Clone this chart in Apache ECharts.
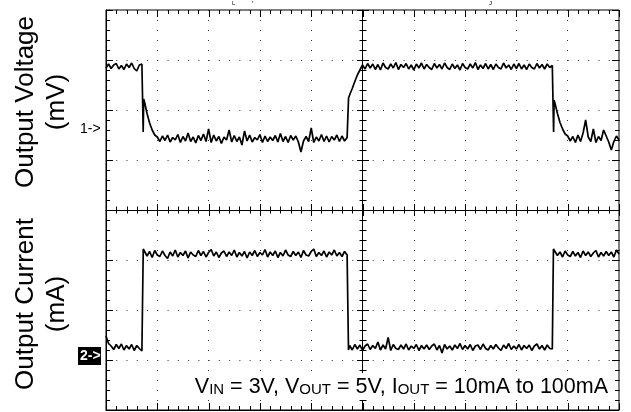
<!DOCTYPE html>
<html>
<head>
<meta charset="utf-8">
<script src="https://cdn.jsdelivr.net/npm/echarts@6/dist/echarts.min.js"></script>
<style>
html,body{margin:0;padding:0;background:#fff;}
#chart{width:631px;height:412px;}
</style>
</head>
<body>
<div id="chart"></div>
<script>
// ---- DATA (oscilloscope trace values in screen divisions; x: 0..10, y: 0..8) ----
const SAMPLE_STEP = 0.05;
const axisLabels = { upper: ['Output Voltage', '(mV)'], lower: ['Output Current', '(mA)'] };
const channelMarkers = ['1->', '2->'];

// Output voltage trace
const vHighA = [6.84, 6.92, 6.83, 6.90, 6.93, 6.82, 6.89, 6.81, 6.92, 6.85, 6.94, 6.83, 6.78, 6.90, 6.92]; // t 0.00..0.70
const vFallA = [[0.72, 6.89], [0.725, 5.56], [0.735, 6.22], [0.76, 6.12], [0.80, 5.93], [0.85, 5.74], [0.90, 5.60], [0.95, 5.50]];
const vLowB = [ // t 1.00..4.70
  5.46, 5.37, 5.48, 5.39, 5.50, 5.36, 5.45, 5.40, 5.51, 5.35,
  5.47, 5.38, 5.54, 5.37, 5.46, 5.34, 5.49, 5.39, 5.52, 5.37,
  5.62, 5.35, 5.50, 5.38, 5.47, 5.33, 5.46, 5.40, 5.60, 5.36,
  5.49, 5.37, 5.46, 5.30, 5.58, 5.38, 5.50, 5.36, 5.45, 5.40,
  5.51, 5.35, 5.48, 5.37, 5.46, 5.39, 5.49, 5.36, 5.53, 5.37,
  5.47, 5.35, 5.49, 5.40, 5.48, 5.36, 5.16, 5.38, 5.47, 5.37,
  5.64, 5.35, 5.46, 5.38, 5.51, 5.37, 5.48, 5.36, 5.47, 5.40,
  5.50, 5.37, 5.48, 5.38, 5.45];
const vRiseB = [[4.725, 5.42], [4.728, 6.24], [4.76, 6.33], [4.80, 6.43], [4.85, 6.57], [4.90, 6.70], [4.95, 6.80]];
const vHighC = [ // t 5.00..8.70
  6.90, 6.82, 6.93, 6.84, 6.92, 6.81, 6.91, 6.80, 6.94, 6.85,
  6.82, 6.92, 6.84, 6.95, 6.81, 6.91, 6.85, 6.93, 6.82, 6.90,
  6.80, 6.92, 6.84, 6.94, 6.82, 6.91, 6.85, 6.81, 6.93, 6.84,
  6.91, 6.82, 6.94, 6.85, 6.81, 6.92, 6.83, 6.90, 6.80, 6.93,
  6.85, 6.82, 6.92, 6.84, 6.95, 6.81, 6.90, 6.83, 6.93, 6.82,
  6.91, 6.81, 6.92, 6.85, 6.82, 6.94, 6.84, 6.90, 6.81, 6.92,
  6.83, 6.93, 6.82, 6.90, 6.81, 6.92, 6.85, 6.82, 6.93, 6.84,
  6.91, 6.82, 6.92, 6.85, 6.89];
const vFallC = [[8.72, 6.88], [8.725, 5.56], [8.735, 6.20], [8.76, 6.10], [8.80, 5.93], [8.85, 5.75], [8.90, 5.62], [8.95, 5.52]];
const vLowD = [ // t 9.00..10.00
  5.48, 5.38, 5.47, 5.35, 5.50, 5.37, 5.54, 5.80, 5.46, 5.37,
  5.62, 5.35, 5.47, 5.39, 5.60, 5.48, 5.36, 5.20, 5.37, 5.48, 5.40];

// Output current trace
const iLowA = [1.48, 1.33, 1.28, 1.21, 1.31, 1.23, 1.32, 1.20, 1.29, 1.22, 1.31, 1.19, 1.29, 1.23, 1.18]; // t 0.00..0.70
const iRiseA = [[0.724, 1.20], [0.726, 3.22]];
const iHighB = [ // t 0.75..4.70
  3.20, 3.08, 3.17, 3.05, 3.19, 3.10, 3.07, 3.18, 3.09, 3.03,
  3.16, 3.08, 3.20, 3.06, 3.15, 3.09, 3.18, 3.04, 3.16, 3.10,
  3.07, 3.19, 3.09, 3.17, 3.06, 3.15, 3.21, 3.08, 3.16, 3.05,
  3.14, 3.18, 3.07, 3.16, 3.09, 3.20, 3.06, 3.15, 3.08, 3.17,
  3.04, 3.16, 3.09, 3.19, 3.07, 3.15, 3.10, 3.21, 3.06, 3.16,
  3.09, 3.18, 3.05, 3.15, 3.08, 3.20, 3.10, 3.07, 3.17, 3.09,
  3.16, 3.05, 3.19, 3.10, 3.08, 3.17, 3.22, 3.07, 3.15, 3.09,
  3.18, 3.06, 3.16, 3.10, 3.20, 3.08, 3.15, 3.07, 3.17, 3.10];
const iFallB = [[4.724, 3.13], [4.727, 1.20]];
const iLowC = [ // t 4.75..8.70
  1.29, 1.20, 1.31, 1.22, 1.30, 1.19, 1.28, 1.32, 1.21, 1.29,
  1.23, 1.36, 1.20, 1.30, 1.22, 1.45, 1.19, 1.31, 1.23, 1.21,
  1.30, 1.22, 1.32, 1.20, 1.28, 1.23, 1.31, 1.19, 1.29, 1.22,
  1.30, 1.21, 1.28, 1.32, 1.20, 1.29, 1.14, 1.31, 1.22, 1.28,
  1.20, 1.30, 1.23, 1.33, 1.21, 1.29, 1.22, 1.31, 1.19, 1.28,
  1.30, 1.21, 1.32, 1.23, 1.20, 1.29, 1.22, 1.31, 1.24, 1.19,
  1.30, 1.23, 1.33, 1.21, 1.28, 1.22, 1.31, 1.20, 1.29, 1.23,
  1.30, 1.19, 1.28, 1.32, 1.22, 1.29, 1.20, 1.30, 1.23, 1.22];
const iRiseC = [[8.72, 1.22], [8.722, 3.22]];
const iHighD = [ // t 8.75..10.00
  3.19, 3.09, 3.16, 3.06, 3.18, 3.10, 3.07, 3.17, 3.08, 3.15,
  3.05, 3.18, 3.09, 3.16, 3.07, 3.14, 3.19, 3.06, 3.15, 3.08,
  3.17, 3.09, 3.16, 3.06, 3.20, 3.12];

// Graticule: 10 x 8 divisions, 5 minor subdivisions each
const X_DIVS = 10, Y_DIVS = 8, MINOR = 5;

// ---- build series data from the arrays ----
function samples(t0, values) {
  return values.map((v, i) => [+(t0 + i * SAMPLE_STEP).toFixed(3), v]);
}
const voltageData = [].concat(
  samples(0, vHighA), vFallA, samples(1.0, vLowB), vRiseB,
  samples(5.0, vHighC), vFallC, samples(9.0, vLowD));
const currentData = [].concat(
  samples(0, iLowA), iRiseA, samples(0.75, iHighB), iFallB,
  samples(4.75, iLowC), iRiseC, samples(8.75, iHighD));

// graticule tick marks (in axis units): [x, y, whichLine]
// whichLine: 0 bottom border, 1 top border, 2 horizontal centre, 3 left border, 4 right border, 5 vertical centre
const graticuleTicks = [];
for (let i = 0; i <= X_DIVS * MINOR; i++) {
  const t = i / MINOR;
  graticuleTicks.push([t, 0, 0], [t, Y_DIVS, 1], [t, Y_DIVS / 2, 2]);
}
for (let j = 0; j <= Y_DIVS * MINOR; j++) {
  const u = j / MINOR;
  graticuleTicks.push([0, u, 3], [X_DIVS, u, 4], [X_DIVS / 2, u, 5]);
}

function renderTick(params, api) {
  const vx = api.value(0), vy = api.value(1), where = api.value(2);
  const p = api.coord([vx, vy]);
  let x1, y1, x2, y2;
  if (where <= 2) {
    const major = Math.abs(vx - Math.round(vx)) < 1e-6;
    const x = Math.round(p[0]) + 0.5, y = Math.round(p[1]);
    if (where === 0) { y1 = y; y2 = y - (major ? 7 : 4); }
    else if (where === 1) { y1 = y; y2 = y + (major ? 7 : 4); }
    else { const h = major ? 6 : 3.5; y1 = y - h; y2 = y + h; }
    x1 = x2 = x;
  } else {
    const major = Math.abs(vy - Math.round(vy)) < 1e-6;
    const y = Math.round(p[1]) + 0.5, x = Math.round(p[0]);
    if (where === 3) { x1 = x; x2 = x + (major ? 7 : 4); }
    else if (where === 4) { x1 = x; x2 = x - (major ? 7 : 4); }
    else { const h = major ? 6 : 3.5; x1 = x - h; x2 = x + h; }
    y1 = y2 = y;
  }
  return { type: 'line', shape: { x1: x1, y1: y1, x2: x2, y2: y2 }, style: { stroke: '#000', lineWidth: 1, fill: null } };
}

// ---- chart ----
const chart = echarts.init(document.getElementById('chart'), null, { renderer: 'canvas' });
const FONT = '"Liberation Sans", Arial, Helvetica, sans-serif';
const black = '#000';

function axisDef(dim, pos, offset, split) {
  return {
    type: 'value', min: 0, max: dim === 'x' ? X_DIVS : Y_DIVS, interval: 1, position: pos, offset: offset,
    axisLine: { show: true, onZero: false, lineStyle: { color: black, width: 1 } },
    axisTick: { show: false },
    minorTick: { show: false },
    axisLabel: { show: false },
    splitLine: { show: split, lineStyle: { color: '#333', width: 1, type: dim === 'x' ? [1, 9] : [1, 9.26] } }
  };
}

const option = {
  animation: false,
  grid: { show: true, borderColor: black, borderWidth: 1, left: 106, top: 10, width: 513, height: 400 },
  xAxis: [
    axisDef('x', 'bottom', 0, true),
    axisDef('x', 'bottom', -200, false)
  ],
  yAxis: [
    axisDef('y', 'left', 0, true),
    axisDef('y', 'left', -256.5, false)
  ],
  series: [
    {
      name: 'graticule', type: 'custom', xAxisIndex: 0, yAxisIndex: 0,
      data: graticuleTicks, renderItem: renderTick, clip: false, silent: true, z: 3
    },
    {
      name: 'Output Voltage', type: 'line', xAxisIndex: 0, yAxisIndex: 0,
      data: voltageData, showSymbol: false, symbol: 'none', z: 5,
      lineStyle: { color: black, width: 1.7 }
    },
    {
      name: 'Output Current', type: 'line', xAxisIndex: 0, yAxisIndex: 0,
      data: currentData, showSymbol: false, symbol: 'none', z: 5,
      lineStyle: { color: black, width: 1.7 }
    }
  ],
  graphic: [
    {
      type: 'text', x: 41.5, y: 102, rotation: Math.PI / 2,
      style: { text: axisLabels.upper.join('\n'), font: '26px ' + FONT, fill: black,
               align: 'center', verticalAlign: 'middle', lineHeight: 31 }
    },
    {
      type: 'text', x: 41.5, y: 304, rotation: Math.PI / 2,
      style: { text: axisLabels.lower.join('\n'), font: '26px ' + FONT, fill: black,
               align: 'center', verticalAlign: 'middle', lineHeight: 31 }
    },
    {
      type: 'text', x: 80, y: 129,
      style: { text: channelMarkers[0], font: '14px ' + FONT, fill: black, align: 'left', verticalAlign: 'middle' }
    },
    {
      type: 'rect', shape: { x: 78, y: 347, width: 23, height: 18 }, style: { fill: black }
    },
    {
      type: 'text', x: 80, y: 356.5,
      style: { text: channelMarkers[1], font: 'bold 14px ' + FONT, fill: '#fff', align: 'left', verticalAlign: 'middle' }
    },
    {
      type: 'text', x: 610, y: 400, z: 20,
      style: {
        text: '{a|V}{b|IN}{a| = 3V, V}{b|OUT}{a| = 5V, I}{b|OUT}{a| = 10mA to 100mA}',
        align: 'right', verticalAlign: 'bottom', fill: black,
        backgroundColor: '#fff', padding: [3, 2, 2, 3],
        rich: {
          a: { fontFamily: FONT, fontSize: 21.5, lineHeight: 22, verticalAlign: 'bottom', fill: black },
          b: { fontFamily: FONT, fontSize: 15, lineHeight: 15, verticalAlign: 'bottom', fill: black, padding: [0, 0, 1, 0] }
        }
      }
    },
    { type: 'text', x: 232, y: 0, style: { text: 'L', font: '6px ' + FONT, fill: black } },
    { type: 'text', x: 252, y: 0, style: { text: "'", font: '8px ' + FONT, fill: black } },
    { type: 'text', x: 489, y: 0, style: { text: 'J', font: '6px ' + FONT, fill: black } }
  ]
};
chart.setOption(option);
</script>
</body>
</html>
